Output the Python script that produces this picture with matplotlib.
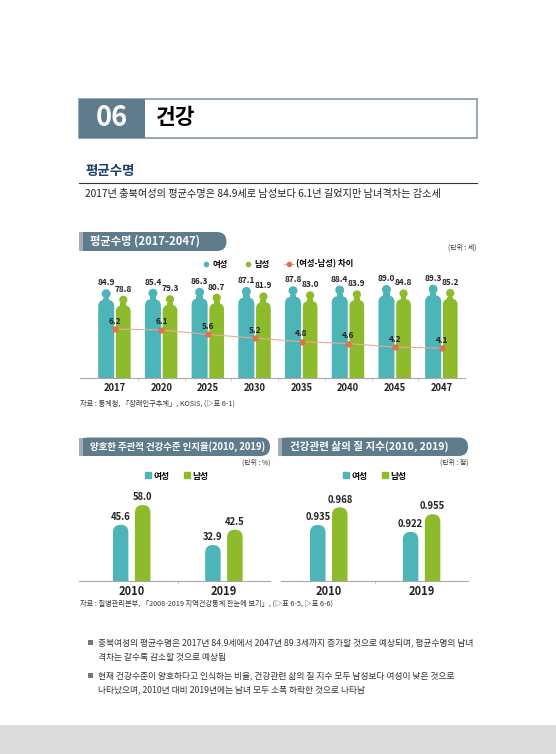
import matplotlib.pyplot as plt
from matplotlib.patches import FancyBboxPatch, Rectangle, Ellipse
from matplotlib.lines import Line2D

plt.rcParams['font.family'] = ['Noto Sans CJK KR', 'DejaVu Sans']

# data
years = ['2017', '2020', '2025', '2030', '2035', '2040', '2045', '2047']
life_f = [84.9, 85.4, 86.3, 87.1, 87.8, 88.4, 89.0, 89.3]
life_m = [78.8, 79.3, 80.7, 81.9, 83.0, 83.9, 84.8, 85.2]
life_gap = [6.2, 6.1, 5.6, 5.2, 4.8, 4.6, 4.2, 4.1]

svy_years = ['2010', '2019']
health_f = [45.6, 32.9]
health_m = [58.0, 42.5]
qol_f = [0.935, 0.922]
qol_m = [0.968, 0.955]

TEAL = '#4db4b7'
GREEN = '#8dbb2b'
PILL = '#5e7c8c'
NAVY = '#1f3f66'
LINE_C = '#eea995'
DOT_C = '#e2704f'

W, H = 556, 754
fig = plt.figure(figsize=(W / 100, H / 100), dpi=100)


def box(x0, y0, x1, y1):
    return [x0 / W, 1 - y1 / H, (x1 - x0) / W, (y1 - y0) / H]


bg = fig.add_axes([0, 0, 1, 1])
bg.set_xlim(0, W)
bg.set_ylim(H, 0)
bg.axis('off')

# header
bg.add_patch(Rectangle((79, 99), 398, 39, fc='white', ec='#8299a6', lw=1.2))
bg.add_patch(Rectangle((79, 99), 66, 39, fc=PILL, ec='none'))
bg.text(112, 118.5, '06', color='white', weight='bold', size=19.5, ha='center', va='center')
bg.text(156, 118, '건강', color='black', weight='bold', size=15.5, ha='left', va='center')

bg.text(85, 171.5, '평균수명', color=NAVY, weight='bold', size=9.7, ha='left', va='center')
bg.plot([79, 477], [183, 183], color='#333333', lw=0.8)
bg.text(85, 194, '2017년 충북여성의 평균수명은 84.9세로 남성보다 6.1년 길었지만 남녀격차는 감소세',
        color='#222222', size=7.3, ha='left', va='center')


def pill(x0, y0, x1, y1, text, size):
    h = y1 - y0
    bg.add_patch(FancyBboxPatch((x0, y0), x1 - x0, h, boxstyle=f"round,pad=0,rounding_size={h / 2}",
                                fc=PILL, ec='none'))
    bg.add_patch(Rectangle((x0, y0), h, h, fc=PILL, ec='none'))
    bg.add_patch(Rectangle((x0, y0), 3.5, h, fc='#a5aeb5', ec='none'))
    bg.text(x0 + 11.5, (y0 + y1) / 2, text, color='white', weight='bold', size=size,
            ha='left', va='center')


pill(79, 232, 226.5, 251, '평균수명 (2017-2047)', 8.1)
bg.text(476, 248, '(단위 : 세)', color='#333333', size=5, ha='right', va='center')
bg.text(80, 404, '자료 : 통계청, 「장래인구추계」, KOSIS, (▷표 6-1)', color='#333333', size=5.2,
        ha='left', va='center')

pill(79, 437.5, 270, 456, '양호한 주관적 건강수준 인지율(2010, 2019)', 6.8)
pill(278, 437.5, 468, 456, '건강관련 삶의 질 지수(2010, 2019)', 7.6)
bg.text(270, 463, '(단위 : %)', color='#333333', size=5, ha='right', va='center')
bg.text(468, 463, '(단위 : 점)', color='#333333', size=5, ha='right', va='center')
bg.text(80, 604, '자료 : 질병관리본부, 「2008-2019 지역건강통계 한눈에 보기」, (▷표 6-5, ▷표 6-6)',
        color='#333333', size=5.2, ha='left', va='center')

# bullets
bullets = [
    (642.7, '충북여성의 평균수명은 2017년 84.9세에서 2047년 89.3세까지 증가할 것으로 예상되며, 평균수명의 남녀'),
    (657.3, '격차는 갈수록 감소할 것으로 예상됨'),
    (675.7, '현재 건강수준이 양호하다고 인식하는 비율, 건강관련 삶의 질 지수 모두 남성보다 여성이 낮은 것으로'),
    (690.0, '나타났으며, 2010년 대비 2019년에는 남녀 모두 소폭 하락한 것으로 나타남'),
]
for i, (y, t) in enumerate(bullets):
    if i % 2 == 0:
        bg.add_patch(Rectangle((88, y - 2.5), 5, 5, fc='#777777', ec='none'))
    bg.text(98, y, t, color='#333333', size=6.3, ha='left', va='center')

bg.add_patch(Rectangle((0, 725), W, 29, fc='#dcdcdc', ec='none'))


def scale(ax, x0, x1, y0, y1):
    bb = ax.get_position()
    sx = bb.width * W / (x1 - x0)
    sy = bb.height * H / (y1 - y0)
    return sx, sy


def style(ax):
    ax.set_facecolor('none')
    for s in ['top', 'left', 'right']:
        ax.spines[s].set_visible(False)
    ax.spines['bottom'].set_color('#a8a8a8')
    ax.spines['bottom'].set_linewidth(0.8)
    ax.tick_params(axis='y', left=False, right=False, labelleft=False, labelright=False)
    ax.tick_params(axis='x', which='major', length=0)
    ax.tick_params(axis='x', which='minor', length=2.5, color='#c8c8c8', width=0.6)


def person(ax, xc, v, w, color, sx, sy):
    wpx = w * sx
    hd = wpx * 0.56
    ax.add_patch(Ellipse((xc, v - hd / 2 / sy), hd / sx, hd / sy, fc=color, ec='none'))
    body_top = v - (hd + 1.5) / sy
    ax.add_patch(Rectangle((xc - 0.2 * w, body_top - 2 / sy), 0.4 * w, 4 / sy, fc=color, ec='none'))
    ax.add_patch(FancyBboxPatch((xc - w / 2, -30), w, body_top + 30,
                                boxstyle=f"round,pad=0,rounding_size={0.42 * w}",
                                mutation_aspect=sx / sy, fc=color, ec='none'))


def rbar(ax, xc, v, w, color, sx, sy, lo):
    ax.add_patch(FancyBboxPatch((xc - w / 2, lo - 50), w, v - lo + 50,
                                boxstyle=f"round,pad=0,rounding_size={w / 2}",
                                mutation_aspect=sx / sy, fc=color, ec='none'))


# main chart
ax = fig.add_axes(box(80, 270, 465, 378))
xl = (-0.743, 7.5)
yl = (0, 103.35)
ax.set_xlim(*xl)
ax.set_ylim(*yl)
sx, sy = scale(ax, xl[0], xl[1], yl[0], yl[1])
for i in range(len(years)):
    person(ax, i - 0.182, life_f[i], 0.343, TEAL, sx, sy)
    person(ax, i + 0.184, life_m[i], 0.315, GREEN, sx, sy)
    ax.annotate(f'{life_f[i]:.1f}', (i - 0.182, life_f[i]), xytext=(0, 1.5), textcoords='offset points',
                ha='center', va='bottom', size=6, weight='bold', color='#222222')
    ax.annotate(f'{life_m[i]:.1f}', (i + 0.184, life_m[i]), xytext=(0, 1.5), textcoords='offset points',
                ha='center', va='bottom', size=6, weight='bold', color='#222222')
ax.set_xticks(range(len(years)), years, size=6.8, weight='bold', color='#222222')
ax.set_xticks([i + 0.5 for i in range(len(years) - 1)], minor=True)

ax2 = ax.twinx()
ax2.set_ylim(0.79, 12.72)
ax2.plot(range(len(years)), life_gap, color=LINE_C, lw=0.8, marker='o', ms=3.5,
         mfc=DOT_C, mec=DOT_C)
for i, g in enumerate(life_gap):
    ax2.annotate(f'{g:.1f}', (i, g), xytext=(0, 2.5), textcoords='offset points',
                 ha='center', va='bottom', size=6, weight='bold', color='#222222')
ax2.axis('off')
style(ax)
ax.tick_params(axis='x', which='major', pad=3.5)

h1 = [Line2D([], [], ls='none', marker='o', ms=3, color=TEAL, label='여성'),
      Line2D([], [], ls='none', marker='o', ms=3, color=GREEN, label='남성'),
      Line2D([], [], ls='-', lw=0.8, color=LINE_C, marker='o', ms=3, mfc=DOT_C, mec=DOT_C,
             label='(여성-남성) 차이')]
fig.legend(handles=h1, loc='center', bbox_to_anchor=(277 / W, 1 - 264 / H), ncol=3, frameon=False,
           prop={'size': 6, 'weight': 'bold'}, handletextpad=0.2, columnspacing=1.8, handlelength=1.2)


def survey_chart(x0, x1, xl, yl, fv, mv, fmt, legend_x):
    a = fig.add_axes(box(x0, 495, x1, 581))
    a.set_xlim(*xl)
    a.set_ylim(*yl)
    style(a)
    sx, sy = scale(a, xl[0], xl[1], yl[0], yl[1])
    w = 15.5 / sx
    off = 11 / sx
    for i in range(len(svy_years)):
        rbar(a, i - off, fv[i], w, TEAL, sx, sy, yl[0])
        rbar(a, i + off, mv[i], w, GREEN, sx, sy, yl[0])
        a.annotate(fmt.format(fv[i]), (i - off, fv[i]), xytext=(0, 2), textcoords='offset points',
                   ha='center', va='bottom', size=6.8, weight='bold', color='#222222')
        a.annotate(fmt.format(mv[i]), (i + off, mv[i]), xytext=(0, 2), textcoords='offset points',
                   ha='center', va='bottom', size=6.8, weight='bold', color='#222222')
    a.set_xticks(range(len(svy_years)), svy_years, size=8, weight='bold', color='#222222')
    a.set_xticks([0.5], minor=True)
    a.tick_params(axis='x', which='major', pad=3)
    hh = [Line2D([], [], ls='none', marker='s', ms=4.5, color=TEAL, label='여성'),
          Line2D([], [], ls='none', marker='s', ms=4.5, color=GREEN, label='남성')]
    fig.legend(handles=hh, loc='center', bbox_to_anchor=(legend_x / W, 1 - 476 / H), ncol=2,
               frameon=False, prop={'size': 6.3, 'weight': 'bold'}, handletextpad=0.1,
               columnspacing=1.6, handlelength=1.0)


survey_chart(79, 270, (-0.571, 1.5), (10.3, 64.25), health_f, health_m, '{:.1f}', 176)
survey_chart(280.7, 468, (-0.518, 1.5), (0.830, 0.991), qol_f, qol_m, '{:.3f}', 374)

fig.savefig('out.png', dpi=100)
